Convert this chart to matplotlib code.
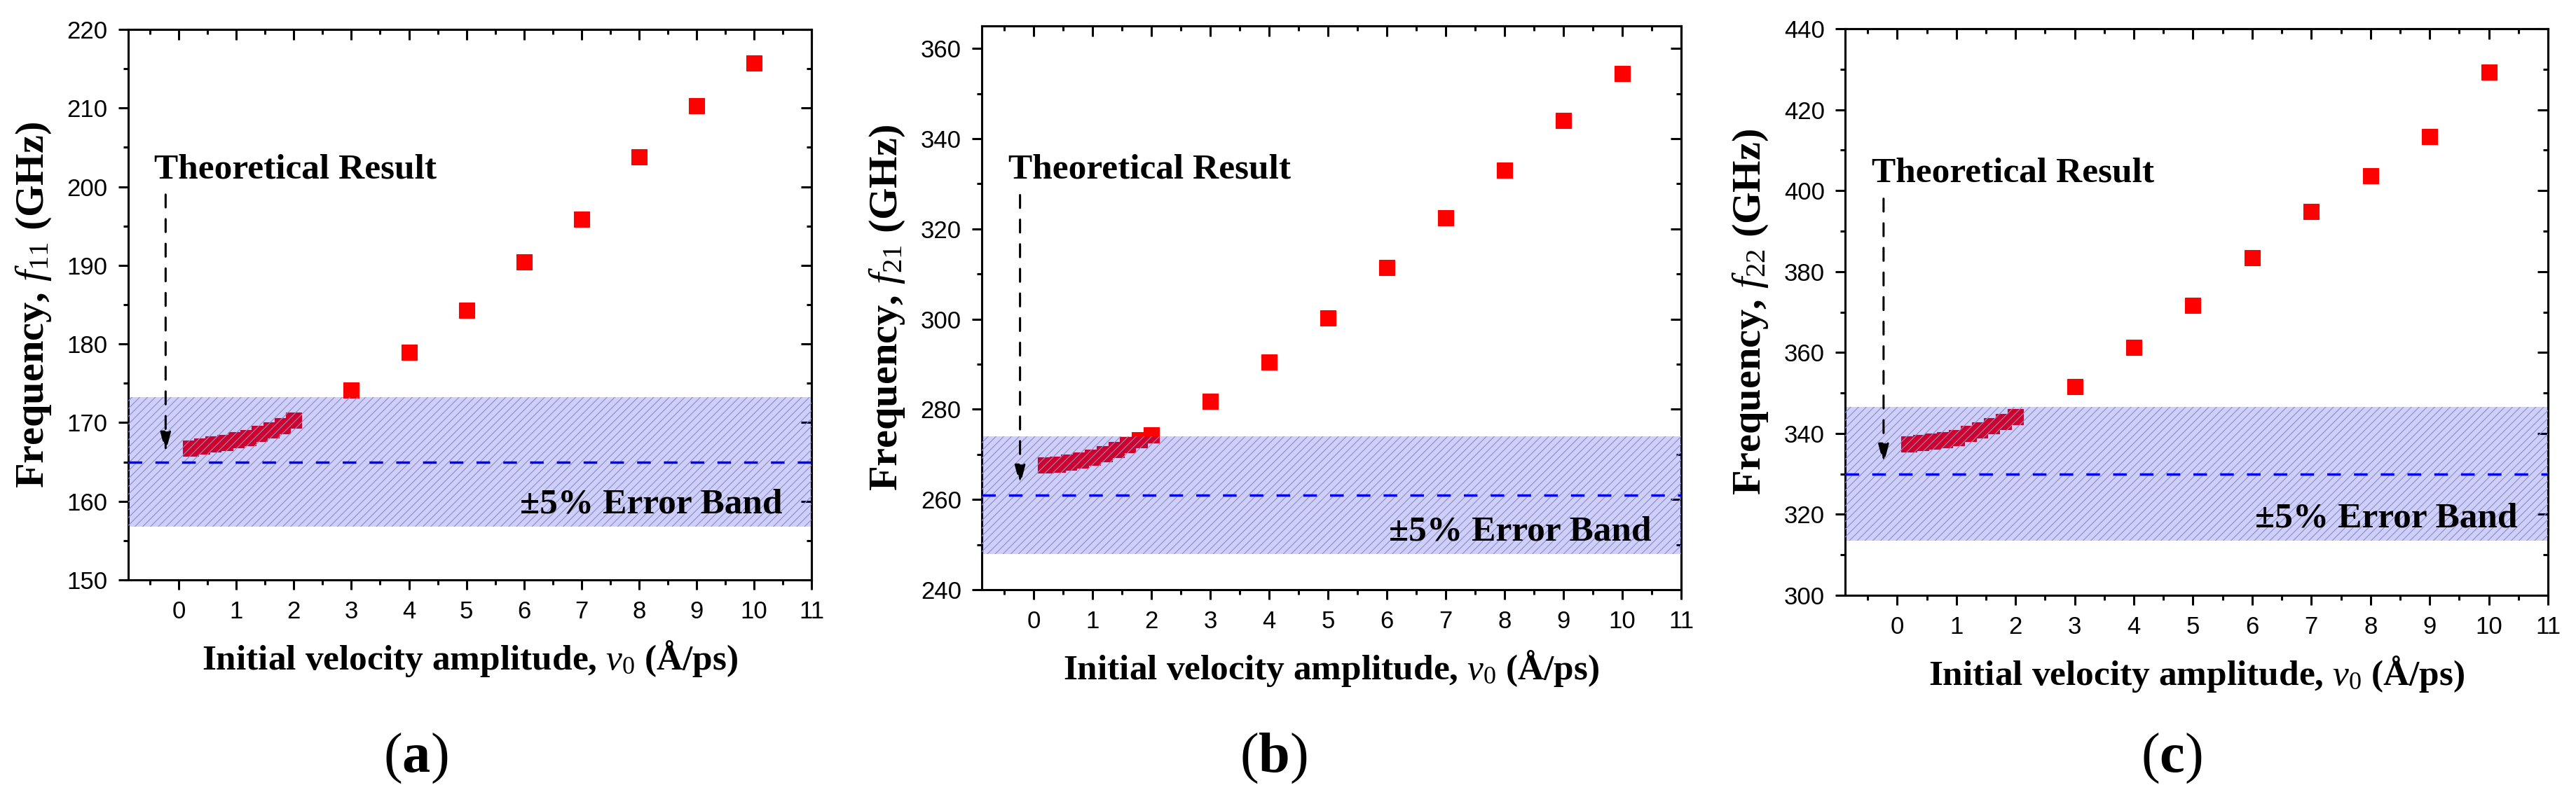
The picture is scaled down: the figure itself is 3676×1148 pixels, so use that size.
import matplotlib
matplotlib.use('Agg')
import matplotlib.pyplot as plt
from matplotlib.ticker import MultipleLocator

plt.rcParams['font.family'] = ['Liberation Serif', 'DejaVu Serif']
plt.rcParams['mathtext.fontset'] = 'custom'
plt.rcParams['mathtext.rm'] = 'Liberation Serif'
plt.rcParams['mathtext.it'] = 'Liberation Serif:italic'
plt.rcParams['mathtext.bf'] = 'Liberation Serif:bold'
plt.rcParams['hatch.linewidth'] = 0.8

# initial velocity amplitude (A/ps)
v0 = [0.2, 0.4, 0.6, 0.8, 1.0, 1.2, 1.4, 1.6, 1.8, 2.0,
      3, 4, 5, 6, 7, 8, 9, 10]

# frequencies (GHz)
f11 = [166.75, 167.0, 167.25, 167.5, 167.8, 168.1, 168.6, 169.1, 169.6, 170.3,
       174.1, 178.9, 184.3, 190.4, 195.9, 203.8, 210.3, 215.7]
f21 = [267.7, 267.8, 268.2, 268.7, 269.4, 270.2, 271.0, 272.1, 273.2, 274.3,
       281.7, 290.5, 300.3, 311.5, 322.5, 333.0, 344.0, 354.5]
f22 = [337.3, 337.7, 338.0, 338.5, 338.9, 339.9, 340.8, 341.8, 342.9, 344.1,
       351.6, 361.2, 371.7, 383.4, 394.9, 403.7, 413.3, 429.2]

theory = [165, 261, 330]
subs = ['11', '21', '22']
panel_tags = ['a', 'b', 'c']
ylims = [(150, 220), (240, 365), (300, 440)]
ysteps = [10, 20, 20]

W, H = 3676, 1148
# axes boxes in pixels: left, right, top, bottom
boxes = [(183, 1158, 42, 828), (1401, 2399, 37, 842), (2633, 3636, 41, 850)]
tag_x = [593, 1817, 3099]

fig = plt.figure(figsize=(W / 100, H / 100), dpi=100)

for i, f in enumerate([f11, f21, f22]):
    l, r, t, b = boxes[i]
    ax = fig.add_axes([l / W, 1 - b / H, (r - l) / W, (b - t) / H])
    th = theory[i]

    ax.plot(v0, f, ls='none', marker='s', ms=15.5, mfc='red', mec='red',
            mew=0.8, zorder=2)

    # +-5% band: translucent fill plus grey hatch on top of the markers
    ax.axhspan(th * 0.95, th * 1.05, facecolor='blue', alpha=0.19, lw=0, zorder=3)
    ax.axhspan(th * 0.95, th * 1.05, facecolor='none', edgecolor=(0.56, 0.56, 0.68),
               hatch='///', lw=0, zorder=3.1)
    ax.axhline(th, color='blue', lw=2.5, dashes=(5.6, 5.4), zorder=4)

    ax.set_xlim(-0.88, 11)
    ax.set_ylim(*ylims[i])

    ax.annotate('', xy=(-0.23, th), xycoords='data',
                xytext=(-0.23, 0.70), textcoords=ax.get_xaxis_transform(),
                arrowprops=dict(arrowstyle='-|>,head_length=1.7,head_width=0.45',
                                lw=2.2, ls=(0, (6, 5.5)), color='black',
                                shrinkA=0, shrinkB=10), zorder=5)
    ax.text(0.038, 0.73, 'Theoretical Result', transform=ax.transAxes,
            fontsize=37, fontweight='bold', va='baseline', zorder=6)
    ax.annotate('\u00b15% Error Band', xy=(0.957, th * 0.95),
                xycoords=ax.get_yaxis_transform(), xytext=(0, 14),
                textcoords='offset points', ha='right', va='baseline',
                fontsize=37, fontweight='bold', zorder=6)

    ax.xaxis.set_major_locator(MultipleLocator(1))
    ax.xaxis.set_minor_locator(MultipleLocator(0.5))
    ax.yaxis.set_major_locator(MultipleLocator(ysteps[i]))
    ax.yaxis.set_minor_locator(MultipleLocator(ysteps[i] / 2))
    ax.tick_params(which='both', direction='out', width=2.2, top=False, right=False,
                   labelsize=25, labelfontfamily='Liberation Sans', pad=11)
    ax.tick_params(which='major', length=10)
    ax.tick_params(which='minor', length=5)
    for s in ax.spines.values():
        s.set_linewidth(2.2)

    # mirrored ticks pointing inward on top and right
    secx = ax.secondary_xaxis('top')
    secx.xaxis.set_major_locator(MultipleLocator(1))
    secx.xaxis.set_minor_locator(MultipleLocator(0.5))
    secx.tick_params(which='both', direction='in', width=2.2, labeltop=False)
    secx.tick_params(which='major', length=11)
    secx.tick_params(which='minor', length=5)
    secx.spines['top'].set_linewidth(2.2)
    secy = ax.secondary_yaxis('right')
    secy.yaxis.set_major_locator(MultipleLocator(ysteps[i]))
    secy.yaxis.set_minor_locator(MultipleLocator(ysteps[i] / 2))
    secy.tick_params(which='both', direction='in', width=2.2, labelright=False)
    secy.tick_params(which='major', length=11)
    secy.tick_params(which='minor', length=5)
    secy.spines['right'].set_linewidth(2.2)

    ax.set_xlabel('Initial velocity amplitude, $\\mathit{v}_0$ (\u00c5/ps)',
                  fontsize=37, fontweight='bold', labelpad=16)
    ax.set_ylabel(r'Frequency, $\mathit{f}_{' + subs[i] + r'}$ (GHz)',
                  fontsize=42, fontweight='bold', labelpad=14)

    fig.text(tag_x[i] / W, 0.057, r'($\mathbf{' + panel_tags[i] + r'}$)',
             ha='center', va='center', fontsize=58)

fig.savefig('out.png', dpi=100)
